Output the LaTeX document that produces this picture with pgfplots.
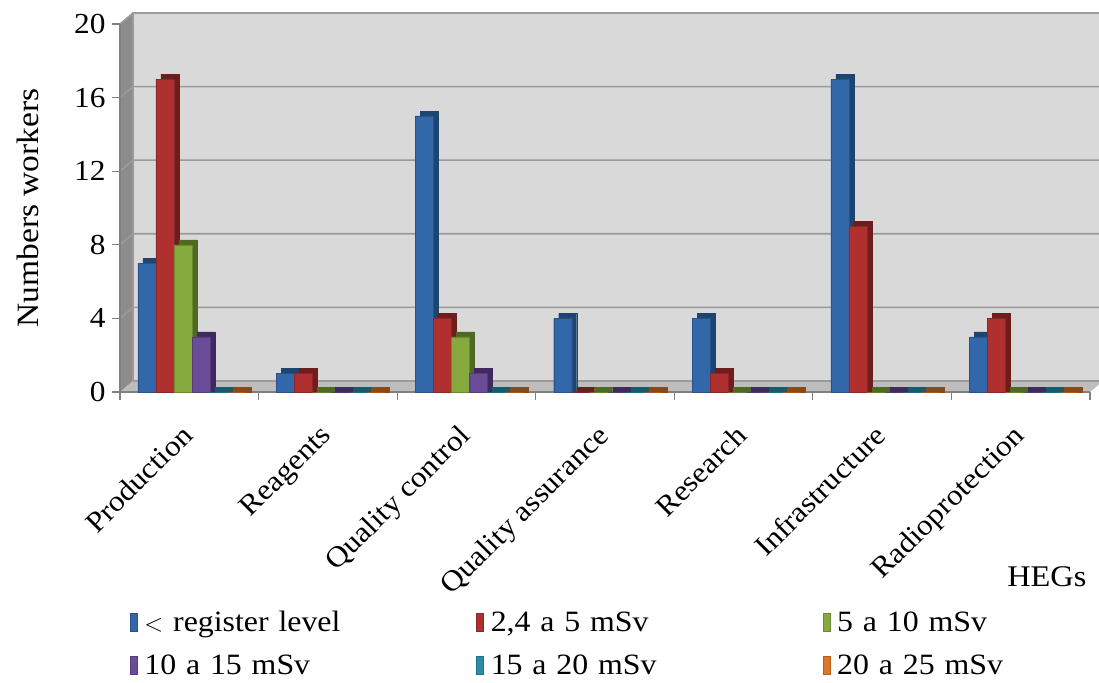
\documentclass[border=0pt]{standalone}
\usepackage{pgfplots}
\pgfplotsset{compat=1.18}
\usepackage{pgfplotstable}
\usepackage{fontspec}
\setmainfont{Liberation Serif}[FakeStretch=1.08]
\definecolor{bA}{HTML}{3267AA}\definecolor{bS}{HTML}{1E4470}
\definecolor{rA}{HTML}{B03030}\definecolor{rS}{HTML}{6E1C1C}
\definecolor{gA}{HTML}{86AA3E}\definecolor{gS}{HTML}{4E6A22}
\definecolor{pA}{HTML}{6B4C98}\definecolor{pS}{HTML}{3E2A5E}
\definecolor{tA}{HTML}{2A8CA6}\definecolor{tS}{HTML}{175A6A}
\definecolor{oA}{HTML}{DE7628}\definecolor{oS}{HTML}{8A4A16}
\definecolor{wall}{HTML}{D9D9D9}\definecolor{lwall}{HTML}{8C8C8C}\definecolor{floorc}{HTML}{BDBDBD}
\definecolor{gridc}{HTML}{9A9A9A}
\pgfplotstableread{
x a b c d e f
0 7 17 8 3 0 0
1 1 1 0 0 0 0
2 15 4 3 1 0 0
3 4 0 0 0 0 0
4 4 1 0 0 0 0
5 17 9 0 0 0 0
6 3 4 0 0 0 0
}\data
\begin{document}
\begin{tikzpicture}
\path[use as bounding box] (-120pt,-290pt) rectangle (979pt,392pt);
% chart walls and floor (decoration, axis frame is 970pt x 368pt at origin)
\fill[wall] (13pt,11pt) rectangle (990pt,379pt);
\fill[lwall] (0pt,0pt) -- (0pt,368pt) -- (13pt,379pt) -- (13pt,11pt) -- cycle;
\fill[floorc] (0pt,0pt) -- (13pt,11pt) -- (983pt,11pt) -- (970pt,0pt) -- cycle;
\foreach \v in {73.6,147.2,220.8,294.4,368} {
  \draw[gridc, line width=1.6pt] (0pt,\v pt) -- (13pt,\v pt+11pt) -- (990pt,\v pt+11pt);
}
\draw[gridc, line width=1.2pt] (13pt,11pt) -- (13pt,379pt);
\draw[gridc, line width=1.2pt] (13pt,11pt) -- (990pt,11pt);
\begin{axis}[
  scale only axis, width=970pt, height=368pt,
  xmin=-0.5, xmax=6.5, ymin=0, ymax=20,
  ytick={0,4,...,20},
  xtick={-0.5,0.5,...,6.5},
  xticklabels={Production,Reagents,Quality control,Quality assurance,Research,Infrastructure,Radioprotection,{}},
  axis lines*=left,
  axis line style={gray, line width=1.2pt},
  tick style={gray, line width=1.2pt},
  tick align=outside, major tick length=8pt,
  ybar, bar width=18pt,
  /pgf/number format/assume math mode=true,
  tick label style={font=\fontsize{29}{33}\selectfont},
  yticklabel style={xshift=-3pt},
  xticklabel style={xshift=60pt, yshift=-18pt, rotate=45, anchor=north east},
  label style={font=\fontsize{30}{34}\selectfont},
  ylabel={Numbers workers},
  ylabel style={font=\fontsize{31}{35}\selectfont, at={(axis description cs:-0.095,0.5)}, anchor=center},
  xlabel={HEGs},
  xlabel style={at={(axis description cs:1,-0.503)}, anchor=east},
  legend columns=3,
  legend style={draw=none, fill=none, font=\fontsize{29.5}{33}\selectfont,
    at={(axis description cs:0.007,-0.584)}, anchor=north west,
    row sep=18pt, column sep=0pt,
    nodes={text width=325pt, align=left, inner xsep=7pt}},
  legend cell align=left,
  legend image code/.code={\fill[#1] (0pt,-9pt) rectangle (7pt,9pt);},
]
% side/top faces (depth)
\addplot[forget plot, fill=bS, draw=bS, bar shift=-37.3pt] table[x=x,y expr=\thisrow{a}+0.27] {\data};
\addplot[forget plot, fill=rS, draw=rS, bar shift=-19.3pt] table[x=x,y expr=\thisrow{b}+0.27] {\data};
\addplot[forget plot, fill=gS, draw=gS, bar shift=-1.3pt] table[x=x,y expr=\thisrow{c}+0.27] {\data};
\addplot[forget plot, fill=pS, draw=pS, bar shift=16.8pt] table[x=x,y expr=\thisrow{d}+0.27] {\data};
\addplot[forget plot, fill=tS, draw=tS, bar shift=34.8pt] table[x=x,y expr=\thisrow{e}+0.27] {\data};
\addplot[forget plot, fill=oS, draw=oS, bar shift=52.8pt] table[x=x,y expr=\thisrow{f}+0.27] {\data};
% front faces
\addplot[fill=bA, draw=bA!80!black, bar shift=-42.3pt] table[x=x,y=a] {\data};
\addplot[fill=rA, draw=rA!80!black, bar shift=-24.3pt] table[x=x,y=b] {\data};
\addplot[fill=gA, draw=gA!80!black, bar shift=-6.3pt] table[x=x,y=c] {\data};
\addplot[fill=pA, draw=pA!80!black, bar shift=11.8pt] table[x=x,y=d] {\data};
\addplot[fill=tA, draw=tA!80!black, bar shift=29.8pt] table[x=x,y=e] {\data};
\addplot[fill=oA, draw=oA!80!black, bar shift=47.8pt] table[x=x,y=f] {\data};
\legend{$<$ register level, {2,4 a 5 mSv}, 5 a 10 mSv, 10 a 15 mSv, 15 a 20 mSv, 20 a 25 mSv}
\end{axis}
\end{tikzpicture}
\end{document}
